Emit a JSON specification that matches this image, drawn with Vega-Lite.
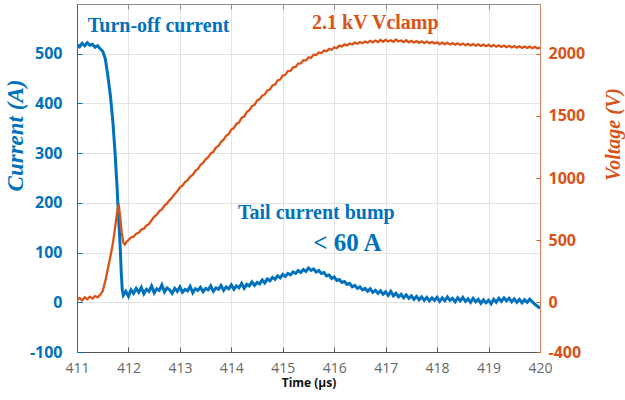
{
  "$schema": "https://vega.github.io/schema/vega-lite/v6.json",
  "width": 463,
  "height": 348,
  "autosize": "none",
  "padding": {"left": 77, "top": 4, "right": 85, "bottom": 48},
  "background": "white",
  "config": {"view": {"stroke": "#8c8c8c", "strokeWidth": 1}},
  "datasets": {
    "current": [
      {"t":411.00,"i":518},{"t":411.05,"i":514},{"t":411.10,"i":521},{"t":411.15,"i":516},{"t":411.20,"i":522},{"t":411.25,"i":517},{"t":411.30,"i":519},{"t":411.35,"i":513},{"t":411.40,"i":516},{"t":411.45,"i":510},{"t":411.50,"i":505},{"t":411.55,"i":490},{"t":411.60,"i":455},{"t":411.65,"i":415},{"t":411.70,"i":360},{"t":411.74,"i":300},{"t":411.78,"i":230},{"t":411.80,"i":185},{"t":411.82,"i":150},{"t":411.84,"i":110},{"t":411.86,"i":60},{"t":411.88,"i":25},{"t":411.90,"i":14},{"t":411.95,"i":22},
      {"t":412.00,"i":12},{"t":412.05,"i":25},{"t":412.10,"i":18},{"t":412.15,"i":28},{"t":412.20,"i":20},{"t":412.25,"i":30},{"t":412.30,"i":17},{"t":412.35,"i":26},{"t":412.40,"i":22},{"t":412.45,"i":33},{"t":412.50,"i":19},{"t":412.55,"i":27},{"t":412.60,"i":24},{"t":412.65,"i":35},{"t":412.70,"i":21},{"t":412.75,"i":29},{"t":412.80,"i":25},{"t":412.85,"i":18},{"t":412.90,"i":28},{"t":412.95,"i":22},
      {"t":413.00,"i":31},{"t":413.05,"i":20},{"t":413.10,"i":26},{"t":413.15,"i":23},{"t":413.20,"i":32},{"t":413.25,"i":19},{"t":413.30,"i":27},{"t":413.35,"i":24},{"t":413.40,"i":30},{"t":413.45,"i":21},{"t":413.50,"i":28},{"t":413.55,"i":25},{"t":413.60,"i":33},{"t":413.65,"i":22},{"t":413.70,"i":29},{"t":413.75,"i":26},{"t":413.80,"i":34},{"t":413.85,"i":24},{"t":413.90,"i":31},{"t":413.95,"i":27},
      {"t":414.00,"i":35},{"t":414.05,"i":26},{"t":414.10,"i":33},{"t":414.15,"i":29},{"t":414.20,"i":38},{"t":414.25,"i":28},{"t":414.30,"i":36},{"t":414.35,"i":33},{"t":414.40,"i":41},{"t":414.45,"i":34},{"t":414.50,"i":40},{"t":414.55,"i":37},{"t":414.60,"i":45},{"t":414.65,"i":39},{"t":414.70,"i":47},{"t":414.75,"i":43},{"t":414.80,"i":50},{"t":414.85,"i":46},{"t":414.90,"i":53},{"t":414.95,"i":49},
      {"t":415.00,"i":56},{"t":415.05,"i":52},{"t":415.10,"i":58},{"t":415.15,"i":55},{"t":415.20,"i":61},{"t":415.25,"i":58},{"t":415.30,"i":64},{"t":415.35,"i":60},{"t":415.40,"i":66},{"t":415.45,"i":62},{"t":415.50,"i":69},{"t":415.55,"i":64},{"t":415.60,"i":67},{"t":415.65,"i":61},{"t":415.70,"i":64},{"t":415.75,"i":58},{"t":415.80,"i":60},{"t":415.85,"i":53},{"t":415.90,"i":55},{"t":415.95,"i":48},
      {"t":416.00,"i":51},{"t":416.05,"i":44},{"t":416.10,"i":46},{"t":416.15,"i":40},{"t":416.20,"i":42},{"t":416.25,"i":36},{"t":416.30,"i":38},{"t":416.35,"i":31},{"t":416.40,"i":34},{"t":416.45,"i":28},{"t":416.50,"i":31},{"t":416.55,"i":25},{"t":416.60,"i":28},{"t":416.65,"i":22},{"t":416.70,"i":27},{"t":416.75,"i":20},{"t":416.80,"i":24},{"t":416.85,"i":18},{"t":416.90,"i":23},{"t":416.95,"i":16},
      {"t":417.00,"i":21},{"t":417.05,"i":14},{"t":417.10,"i":22},{"t":417.15,"i":13},{"t":417.20,"i":18},{"t":417.25,"i":11},{"t":417.30,"i":16},{"t":417.35,"i":9},{"t":417.40,"i":15},{"t":417.45,"i":8},{"t":417.50,"i":13},{"t":417.55,"i":6},{"t":417.60,"i":12},{"t":417.65,"i":5},{"t":417.70,"i":11},{"t":417.75,"i":4},{"t":417.80,"i":10},{"t":417.85,"i":3},{"t":417.90,"i":9},{"t":417.95,"i":4},
      {"t":418.00,"i":10},{"t":418.05,"i":2},{"t":418.10,"i":9},{"t":418.15,"i":3},{"t":418.20,"i":11},{"t":418.25,"i":4},{"t":418.30,"i":8},{"t":418.35,"i":1},{"t":418.40,"i":9},{"t":418.45,"i":3},{"t":418.50,"i":10},{"t":418.55,"i":2},{"t":418.60,"i":7},{"t":418.65,"i":0},{"t":418.70,"i":8},{"t":418.75,"i":1},{"t":418.80,"i":6},{"t":418.85,"i":-2},{"t":418.90,"i":5},{"t":418.95,"i":-1},
      {"t":419.00,"i":4},{"t":419.05,"i":-3},{"t":419.10,"i":6},{"t":419.15,"i":0},{"t":419.20,"i":8},{"t":419.25,"i":2},{"t":419.30,"i":9},{"t":419.35,"i":3},{"t":419.40,"i":8},{"t":419.45,"i":1},{"t":419.50,"i":7},{"t":419.55,"i":0},{"t":419.60,"i":6},{"t":419.65,"i":-1},{"t":419.70,"i":5},{"t":419.75,"i":0},{"t":419.80,"i":6},{"t":419.85,"i":1},{"t":419.90,"i":-4},{"t":419.95,"i":-8},{"t":420.00,"i":-12}
    ],
    "voltage": [
      {"t":411.00,"v":20},{"t":411.05,"v":35},{"t":411.10,"v":15},{"t":411.15,"v":40},{"t":411.20,"v":25},{"t":411.25,"v":45},{"t":411.30,"v":30},{"t":411.35,"v":50},{"t":411.40,"v":40},{"t":411.45,"v":60},{"t":411.50,"v":90},{"t":411.55,"v":170},{"t":411.60,"v":270},{"t":411.65,"v":370},{"t":411.70,"v":480},{"t":411.74,"v":600},{"t":411.78,"v":720},{"t":411.81,"v":790},{"t":411.84,"v":680},{"t":411.87,"v":560},{"t":411.90,"v":480},{"t":411.93,"v":465},{"t":411.97,"v":490},
      {"t":412.00,"v":500},{"t":412.05,"v":522},{"t":412.10,"v":528},{"t":412.15,"v":551},{"t":412.20,"v":560},{"t":412.25,"v":585},{"t":412.30,"v":592},{"t":412.35,"v":618},{"t":412.40,"v":630},{"t":412.45,"v":660},{"t":412.50,"v":688},{"t":412.55,"v":705},{"t":412.60,"v":733},{"t":412.65,"v":748},{"t":412.70,"v":778},{"t":412.75,"v":795},{"t":412.80,"v":822},{"t":412.85,"v":843},{"t":412.90,"v":872},{"t":412.95,"v":893},
      {"t":413.00,"v":925},{"t":413.05,"v":938},{"t":413.10,"v":968},{"t":413.15,"v":982},{"t":413.20,"v":1012},{"t":413.25,"v":1025},{"t":413.30,"v":1058},{"t":413.35,"v":1072},{"t":413.40,"v":1105},{"t":413.45,"v":1122},{"t":413.50,"v":1150},{"t":413.55,"v":1168},{"t":413.60,"v":1198},{"t":413.65,"v":1210},{"t":413.70,"v":1245},{"t":413.75,"v":1258},{"t":413.80,"v":1290},{"t":413.85,"v":1308},{"t":413.90,"v":1340},{"t":413.95,"v":1355},
      {"t":414.00,"v":1390},{"t":414.05,"v":1402},{"t":414.10,"v":1435},{"t":414.15,"v":1448},{"t":414.20,"v":1483},{"t":414.25,"v":1494},{"t":414.30,"v":1530},{"t":414.35,"v":1545},{"t":414.40,"v":1578},{"t":414.45,"v":1588},{"t":414.50,"v":1622},{"t":414.55,"v":1635},{"t":414.60,"v":1662},{"t":414.65,"v":1672},{"t":414.70,"v":1705},{"t":414.75,"v":1712},{"t":414.80,"v":1745},{"t":414.85,"v":1752},{"t":414.90,"v":1785},{"t":414.95,"v":1792},
      {"t":415.00,"v":1825},{"t":415.05,"v":1830},{"t":415.10,"v":1860},{"t":415.15,"v":1862},{"t":415.20,"v":1890},{"t":415.25,"v":1893},{"t":415.30,"v":1920},{"t":415.35,"v":1922},{"t":415.40,"v":1948},{"t":415.45,"v":1945},{"t":415.50,"v":1970},{"t":415.55,"v":1968},{"t":415.60,"v":1992},{"t":415.65,"v":1990},{"t":415.70,"v":2010},{"t":415.75,"v":2005},{"t":415.80,"v":2025},{"t":415.85,"v":2020},{"t":415.90,"v":2040},{"t":415.95,"v":2032},
      {"t":416.00,"v":2052},{"t":416.05,"v":2045},{"t":416.10,"v":2065},{"t":416.15,"v":2058},{"t":416.20,"v":2075},{"t":416.25,"v":2066},{"t":416.30,"v":2082},{"t":416.35,"v":2074},{"t":416.40,"v":2090},{"t":416.45,"v":2080},{"t":416.50,"v":2094},{"t":416.55,"v":2084},{"t":416.60,"v":2098},{"t":416.65,"v":2088},{"t":416.70,"v":2104},{"t":416.75,"v":2092},{"t":416.80,"v":2106},{"t":416.85,"v":2094},{"t":416.90,"v":2110},{"t":416.95,"v":2096},
      {"t":417.00,"v":2112},{"t":417.05,"v":2098},{"t":417.10,"v":2108},{"t":417.15,"v":2096},{"t":417.20,"v":2114},{"t":417.25,"v":2098},{"t":417.30,"v":2106},{"t":417.35,"v":2094},{"t":417.40,"v":2108},{"t":417.45,"v":2092},{"t":417.50,"v":2104},{"t":417.55,"v":2090},{"t":417.60,"v":2102},{"t":417.65,"v":2088},{"t":417.70,"v":2100},{"t":417.75,"v":2086},{"t":417.80,"v":2098},{"t":417.85,"v":2084},{"t":417.90,"v":2095},{"t":417.95,"v":2082},
      {"t":418.00,"v":2092},{"t":418.05,"v":2078},{"t":418.10,"v":2090},{"t":418.15,"v":2076},{"t":418.20,"v":2088},{"t":418.25,"v":2074},{"t":418.30,"v":2085},{"t":418.35,"v":2072},{"t":418.40,"v":2084},{"t":418.45,"v":2070},{"t":418.50,"v":2081},{"t":418.55,"v":2068},{"t":418.60,"v":2079},{"t":418.65,"v":2066},{"t":418.70,"v":2077},{"t":418.75,"v":2064},{"t":418.80,"v":2075},{"t":418.85,"v":2062},{"t":418.90,"v":2073},{"t":418.95,"v":2060},
      {"t":419.00,"v":2071},{"t":419.05,"v":2058},{"t":419.10,"v":2069},{"t":419.15,"v":2056},{"t":419.20,"v":2068},{"t":419.25,"v":2054},{"t":419.30,"v":2066},{"t":419.35,"v":2052},{"t":419.40,"v":2064},{"t":419.45,"v":2050},{"t":419.50,"v":2062},{"t":419.55,"v":2049},{"t":419.60,"v":2060},{"t":419.65,"v":2047},{"t":419.70,"v":2058},{"t":419.75,"v":2046},{"t":419.80,"v":2057},{"t":419.85,"v":2044},{"t":419.90,"v":2055},{"t":419.95,"v":2043},{"t":420.00,"v":2050}
    ],
    "notes": [
      {"label":"Turn-off current","t":411.21,"i":555,"series":"current","kind":"note"},
      {"label":"2.1 kV Vclamp","t":415.57,"i":561,"series":"voltage","kind":"note"},
      {"label":"Tail current bump","t":414.13,"i":179,"series":"current","kind":"note"},
      {"label":"< 60 A","t":415.59,"i":119,"series":"current","kind":"big"}
    ]
  },
  "layer": [
    {
      "layer": [
        {
          "data": {"name": "current"},
          "mark": {"type": "line", "color": "#0072BD", "strokeWidth": 3, "clip": true},
          "encoding": {
            "x": {"field": "t", "type": "quantitative", "scale": {"domain": [411, 420], "nice": false, "zero": false},
              "axis": {"values": [411,412,413,414,415,416,417,418,419,420], "labelExpr": "'' + datum.value", "grid": true, "gridColor": "#e4e4e4", "domainColor": "#555555", "tickColor": "#555555", "tickSize": -5, "labelFlush": false, "labelColor": "#666666", "labelFont": "Open Sans", "labelFontSize": 14, "labelPadding": 14, "title": "Time (μs)", "titleFont": "Open Sans", "titleFontSize": 12, "titleFontWeight": "bold", "titleColor": "#111111", "titlePadding": 2}},
            "y": {"field": "i", "type": "quantitative", "scale": {"domain": [-100, 600], "nice": false, "zero": false},
              "axis": {"values": [-100,0,100,200,300,400,500], "labelExpr": "'' + datum.value", "grid": true, "gridColor": "#e4e4e4", "domainColor": "#0072BD", "tickColor": "#0072BD", "tickSize": -5, "labelFlush": false, "labelColor": "#0072BD", "labelFont": "Open Sans", "labelFontSize": 16, "labelFontWeight": "bold", "labelPadding": 20,
                "title": "Current (A)", "titleFont": "Liberation Serif", "titleFontStyle": "italic", "titleFontWeight": "bold", "titleFontSize": 23, "titleColor": "#0072BD", "titleAngle": 270, "titleX": -62, "titleY": 131, "titleAlign": "center", "titleBaseline": "middle"}}
          }
        },
        {
          "data": {"name": "notes"},
          "transform": [{"filter": "datum.kind === 'note'"}],
          "mark": {"type": "text", "align": "left", "baseline": "middle", "font": "Liberation Serif", "fontWeight": "bold", "fontSize": 20},
          "encoding": {
            "x": {"field": "t", "type": "quantitative"},
            "y": {"field": "i", "type": "quantitative"},
            "text": {"field": "label"},
            "color": {"field": "series", "type": "nominal", "scale": {"domain": ["current", "voltage"], "range": ["#0072BD", "#D95319"]}, "legend": null}
          }
        },
        {
          "data": {"name": "notes"},
          "transform": [{"filter": "datum.kind === 'big'"}],
          "mark": {"type": "text", "align": "left", "baseline": "middle", "font": "Liberation Serif", "fontWeight": "bold", "fontSize": 25, "color": "#0072BD"},
          "encoding": {
            "x": {"field": "t", "type": "quantitative"},
            "y": {"field": "i", "type": "quantitative"},
            "text": {"field": "label"}
          }
        }
      ]
    },
    {
      "data": {"name": "voltage"},
      "mark": {"type": "line", "color": "#D95319", "strokeWidth": 2.3, "clip": true},
      "encoding": {
        "x": {"field": "t", "type": "quantitative",
          "axis": {"orient": "top", "values": [411,412,413,414,415,416,417,418,419,420], "labels": false, "title": null, "grid": false, "domainColor": "#8c8c8c", "tickColor": "#8c8c8c", "tickSize": -5}},
        "y": {"field": "v", "type": "quantitative", "scale": {"domain": [-400, 2400], "nice": false, "zero": false},
          "axis": {"orient": "right", "values": [-400,0,500,1000,1500,2000], "labelExpr": "'' + datum.value", "grid": false, "domainColor": "#D9825A", "tickColor": "#D95319", "tickSize": -4, "labelFlush": false, "labelColor": "#D95319", "labelFont": "Open Sans", "labelFontSize": 16, "labelFontWeight": "bold", "labelPadding": 12,
            "title": "Voltage (V)", "titleFont": "Liberation Serif", "titleFontStyle": "italic", "titleFontWeight": "bold", "titleFontSize": 20, "titleColor": "#D95319", "titleAngle": 270, "titleX": 73, "titleY": 130, "titleAlign": "center", "titleBaseline": "middle"}}
      }
    }
  ],
  "resolve": {"scale": {"y": "independent"}, "axis": {"x": "independent"}}
}
